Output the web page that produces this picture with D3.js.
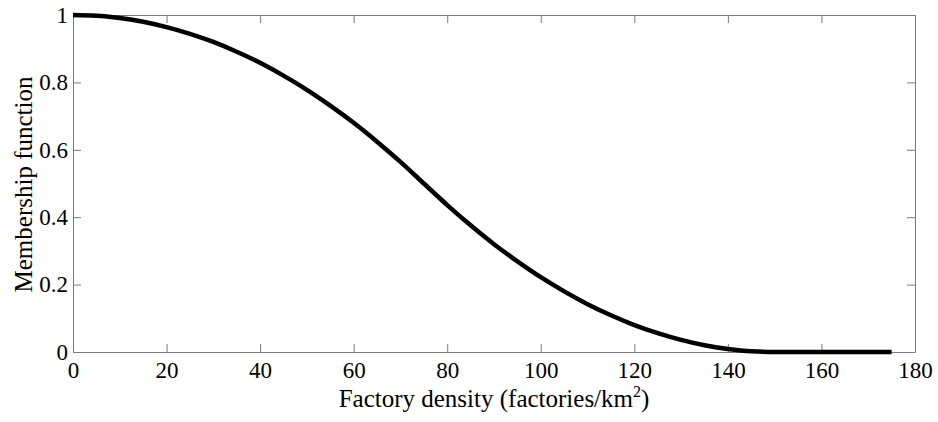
<!DOCTYPE html>
<html lang="en">
  <head>
    <meta charset="UTF-8" />
    <title>Membership function</title>
    <script src="https://d3js.org/d3.v7.min.js"></script>
    <style>
      body { margin: 0; background: #fff; }
      svg { display: block; }
      .axis text { font-family: "Liberation Serif", "DejaVu Serif", serif; font-size: 23px; fill: #000; }
      .axis path, .axis line { stroke: #7a7a7a; }
      .label { font-family: "Liberation Serif", "DejaVu Serif", serif; font-size: 25px; fill: #000; }
    </style>
  </head>
  <body>
    <svg id="chart" width="938" height="422"></svg>
    <script>
      // data
      const density = [0, 5, 10, 15, 20, 25, 30, 35, 40, 45, 50, 55, 60, 65, 70, 75, 80, 85,
        90, 95, 100, 105, 110, 115, 120, 125, 130, 135, 140, 145, 150, 155, 160, 165, 170, 175];
      const membership = [1.0, 0.998, 0.991, 0.98, 0.964, 0.944, 0.92, 0.891, 0.858, 0.82,
        0.778, 0.731, 0.68, 0.624, 0.564, 0.5, 0.436, 0.376, 0.32, 0.269, 0.222, 0.18,
        0.142, 0.109, 0.08, 0.056, 0.036, 0.02, 0.009, 0.002, 0, 0, 0, 0, 0, 0];
      const xTicks = [0, 20, 40, 60, 80, 100, 120, 140, 160, 180];
      const yTicks = [0, 0.2, 0.4, 0.6, 0.8, 1];

      const margin = { top: 15, right: 23, bottom: 70, left: 73 };
      const width = 938, height = 422;
      const x0 = margin.left, x1 = width - margin.right;
      const y0 = height - margin.bottom, y1 = margin.top;

      const x = d3.scaleLinear().domain([0, 180]).range([x0, x1]);
      const y = d3.scaleLinear().domain([0, 1]).range([y0, y1]);

      const svg = d3.select("#chart");

      // axes, ticks pointing inward on all four sides
      svg.append("g").attr("class", "axis")
        .attr("transform", `translate(0,${y0})`)
        .call(d3.axisBottom(x).tickValues(xTicks).tickFormat(d3.format("d"))
          .tickSizeInner(-8).tickSizeOuter(0).tickPadding(10));
      svg.append("g").attr("class", "axis")
        .attr("transform", `translate(0,${y1})`)
        .call(d3.axisTop(x).tickValues(xTicks).tickFormat("")
          .tickSizeInner(-8).tickSizeOuter(0));
      svg.append("g").attr("class", "axis")
        .attr("transform", `translate(${x0},0)`)
        .call(d3.axisLeft(y).tickValues(yTicks).tickFormat(d => d === 0 || d === 1 ? d : d.toFixed(1))
          .tickSizeInner(-8).tickSizeOuter(0).tickPadding(5));
      svg.append("g").attr("class", "axis")
        .attr("transform", `translate(${x1},0)`)
        .call(d3.axisRight(y).tickValues(yTicks).tickFormat("")
          .tickSizeInner(-8).tickSizeOuter(0));

      // curve
      const line = d3.line()
        .x((d, i) => x(density[i]))
        .y(d => y(d))
        .curve(d3.curveMonotoneX);
      svg.append("path")
        .datum(membership)
        .attr("d", line)
        .attr("fill", "none")
        .attr("stroke", "#000")
        .attr("stroke-width", 4.5);

      // axis labels
      const xl = svg.append("text").attr("class", "label")
        .attr("x", (x0 + x1) / 2).attr("y", 407).attr("text-anchor", "middle");
      xl.append("tspan").text("Factory density (factories/km");
      xl.append("tspan").attr("dy", -10).attr("font-size", 16).text("2");
      xl.append("tspan").attr("dy", 10).text(")");

      svg.append("text").attr("class", "label")
        .attr("transform", `translate(32,${(y0 + y1) / 2 + 1}) rotate(-90)`)
        .attr("text-anchor", "middle")
        .text("Membership function");
    </script>
  </body>
</html>
